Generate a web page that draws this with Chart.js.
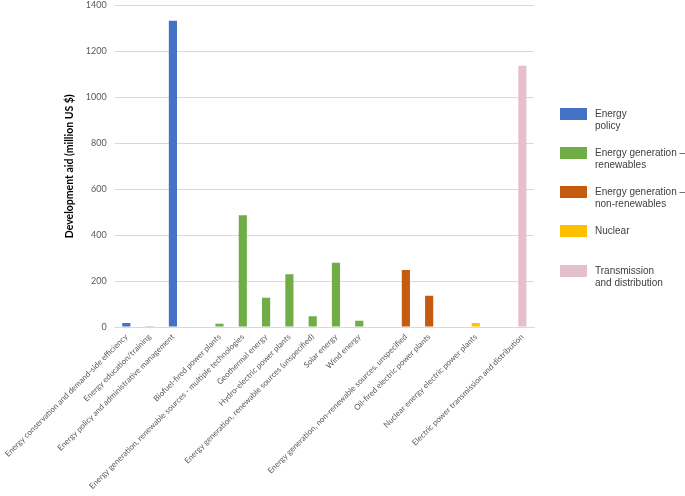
<!DOCTYPE html>
<html>
<head>
<meta charset="utf-8">
<script src="https://cdn.jsdelivr.net/npm/chart.js@4.4.0/dist/chart.umd.min.js"></script>
<style>
  html, body { margin: 0; padding: 0; background: #fff; }
  #wrap { position: relative; width: 685px; height: 496px; }
  #legend { position: absolute; left: 560px; top: 0; font-family: "Liberation Sans", Arial, sans-serif; font-size: 10px; color: #404040; }
  .item { position: absolute; left: 0; width: 125px; }
  .box { position: absolute; left: 0; top: 0; width: 27px; height: 12px; }
  .txt { position: absolute; left: 35px; top: 0; line-height: 12px; white-space: nowrap; }
</style>
</head>
<body>
<div id="wrap">
  <canvas id="chart" width="685" height="496"></canvas>
  <div id="legend"></div>
</div>
<script>
// Categories (empty strings are the gaps between sector groups)
const categories = [
    'Energy conservation and demand-side efficiency',
    'Energy education/training',
    'Energy policy and administrative management',
    '',
    'Biofuel-fired power plants',
    'Energy generation, renewable sources - multiple technologies',
    'Geothermal energy',
    'Hydro-electric power plants',
    'Energy generation, renewable sources (unspecified)',
    'Solar energy',
    'Wind energy',
    '',
    'Energy generation, non-renewable sources, unspecified',
    'Oil-fired electric power plants',
    '',
    'Nuclear energy electric power plants',
    '',
    'Electric power transmission and distribution'
];

// Development aid, million US $
const values = [18, 4, 1333, null, 15, 487, 128, 230, 47, 280, 28, null, 249, 136, null, 18, null, 1137];

// Which sector group each category belongs to (index into seriesNames)
const groupOf = [0, 0, 0, -1, 1, 1, 1, 1, 1, 1, 1, -1, 2, 2, -1, 3, -1, 4];

const seriesNames = [
    ['Energy', 'policy'],
    ['Energy generation \u2013', 'renewables'],
    ['Energy generation \u2013', 'non-renewables'],
    ['Nuclear'],
    ['Transmission', 'and distribution']
];
const seriesColors = ['#4472C4', '#70AD47', '#C55A11', '#FFC000', '#E6BFCC'];

const yTicks = [0, 200, 400, 600, 800, 1000, 1200, 1400];

const datasets = seriesNames.map((name, s) => ({
    label: name.join(' '),
    data: values.map((v, i) => (groupOf[i] === s ? v : null)),
    backgroundColor: seriesColors[s],
    barPercentage: 0.35,
    categoryPercentage: 1
}));

new Chart(document.getElementById('chart').getContext('2d'), {
    type: 'bar',
    data: { labels: categories, datasets: datasets },
    options: {
        responsive: false,
        animation: false,
        devicePixelRatio: 1,
        layout: { padding: { left: 0, right: 151, top: 0, bottom: 0 } },
        plugins: { legend: { display: false }, tooltip: { enabled: false } },
        scales: {
            x: {
                stacked: true,
                grid: { display: false, drawTicks: false },
                border: { color: '#D9D9D9' },
                ticks: {
                    autoSkip: false,
                    minRotation: 45,
                    maxRotation: 45,
                    padding: 5,
                    color: '#595959',
                    font: { family: 'Lato', size: 8 }
                }
            },
            y: {
                stacked: true,
                min: 0,
                max: 1400,
                afterBuildTicks: axis => { axis.ticks = yTicks.map(v => ({ value: v })); },
                afterFit: axis => { axis.width = 51; },
                grid: { color: '#D9D9D9', drawTicks: true, tickLength: 8, tickColor: 'rgba(0,0,0,0)' },
                border: { display: false },
                ticks: {
                    padding: 0,
                    color: '#595959',
                    font: { family: 'Lato', size: 9 },
                    callback: v => String(v)
                },
                title: {
                    display: true,
                    text: 'Development aid (million US $)',
                    color: '#000',
                    font: { family: 'Lato', size: 10.5, weight: 'bold' },
                    padding: { top: 0, bottom: 10 }
                }
            }
        }
    }
});

// Legend on the right, one block per sector group
const legendTops = [108, 147, 186, 225, 265];
const legend = document.getElementById('legend');
seriesNames.forEach((name, s) => {
    const item = document.createElement('div');
    item.className = 'item';
    item.style.top = legendTops[s] + 'px';
    item.innerHTML = '<div class="box" style="background:' + seriesColors[s] + '"></div>' +
        '<div class="txt">' + name.join('<br>') + '</div>';
    legend.appendChild(item);
});
</script>
</body>
</html>
